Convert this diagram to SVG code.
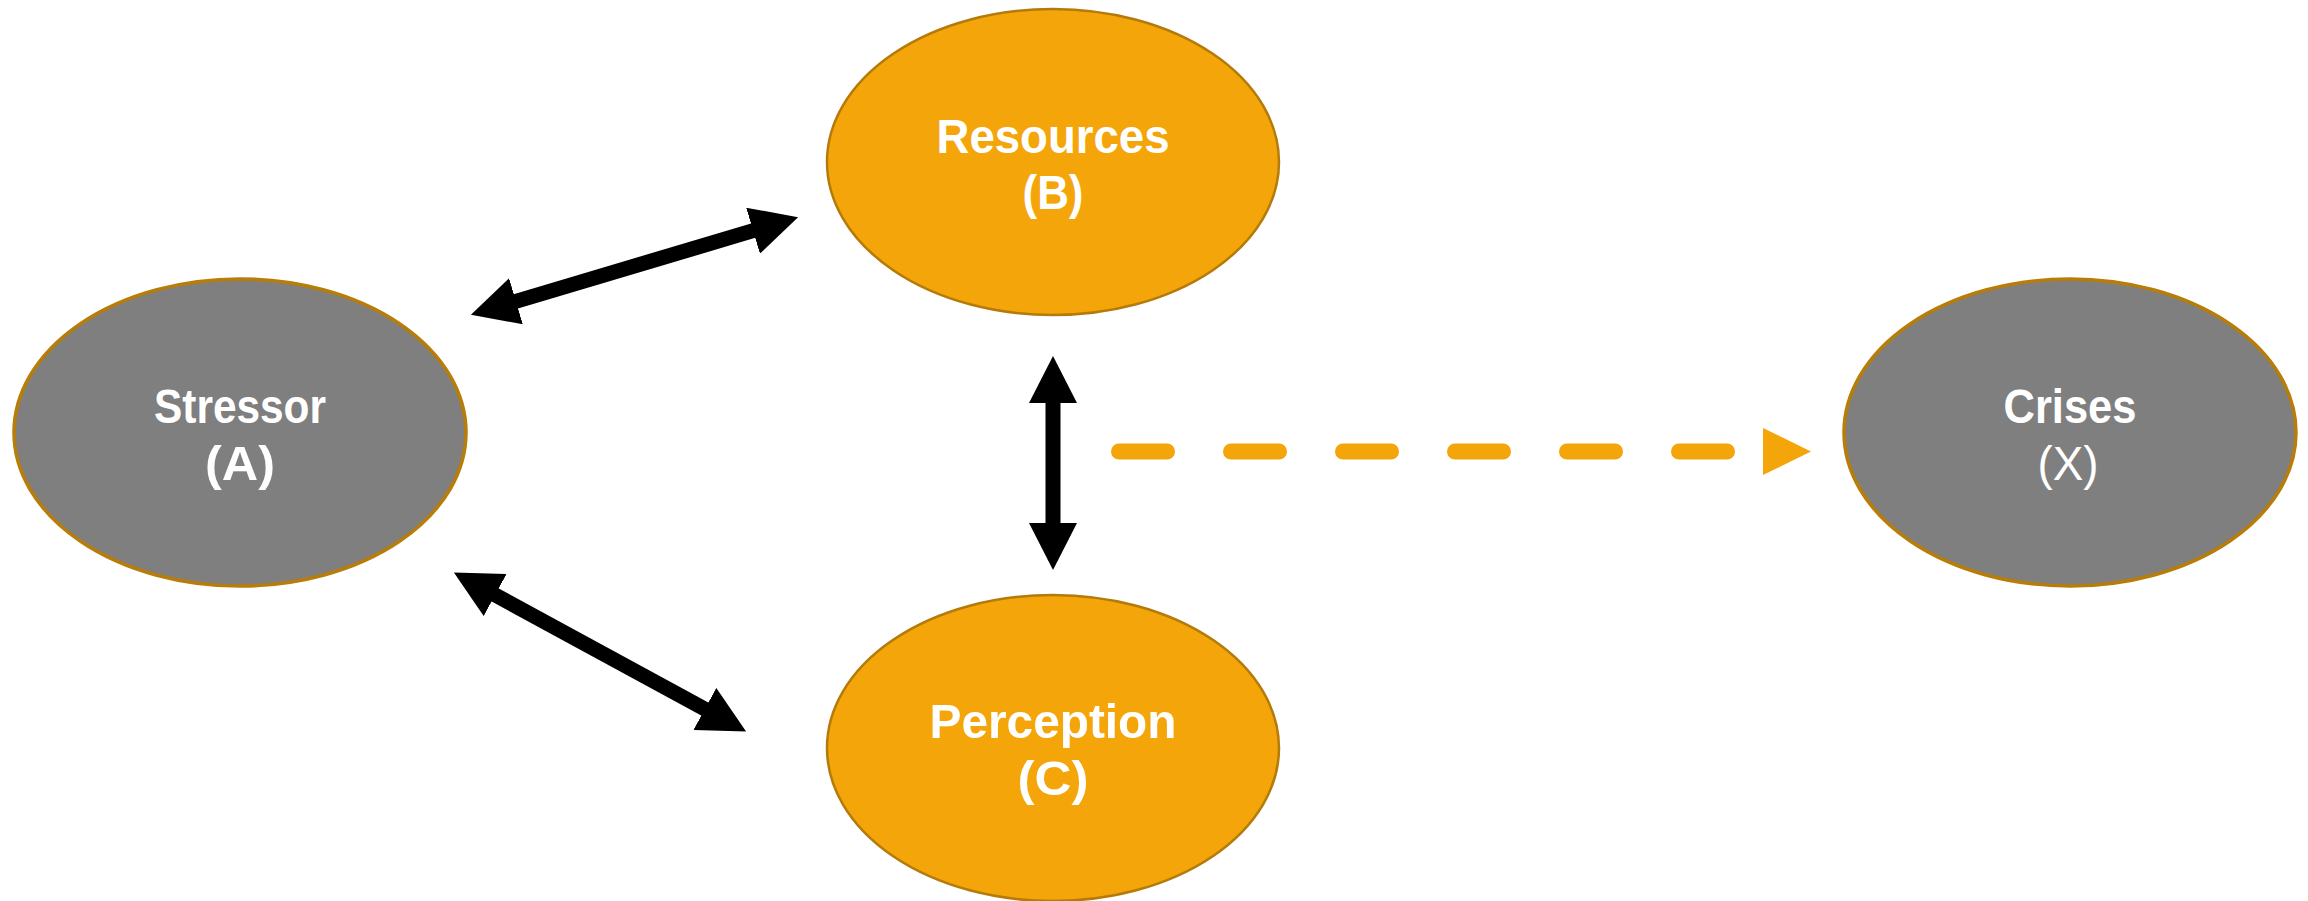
<svg xmlns="http://www.w3.org/2000/svg" width="2308" height="901" viewBox="0 0 2308 901">
  <style>
    .grey { fill: #7F7F7F; stroke: #B77D08; stroke-width: 3.5; }
    .gold { fill: #F4A509; stroke: #B47A0A; stroke-width: 2.5; }
    .lbl { font-family: "Liberation Sans", Arial, sans-serif; font-size: 49px; font-weight: bold; fill: #FFFFFF; text-anchor: middle; }
    .reg { font-weight: normal; }
    .dbl { fill: none; stroke: #000000; stroke-width: 15; marker-start: url(#blk); marker-end: url(#blk); }
    .dash { fill: none; stroke: #F4A509; stroke-width: 16; stroke-linecap: round; stroke-dasharray: 48 64; marker-end: url(#org); }
  </style>
  <defs>
    <marker id="blk" viewBox="0 0 47 48" refX="1" refY="24" markerWidth="47" markerHeight="48" markerUnits="userSpaceOnUse" orient="auto-start-reverse">
      <path d="M0,0 L47,24 L0,48 Z" fill="#000000"/>
    </marker>
    <marker id="org" viewBox="0 0 48 47" refX="0" refY="23.5" markerWidth="48" markerHeight="47" markerUnits="userSpaceOnUse" orient="auto">
      <path d="M0,0 L48,23.5 L0,47 Z" fill="#F4A509"/>
    </marker>
  </defs>
  <rect width="2308" height="901" fill="#FFFFFF"/>

  <g id="stressor">
    <ellipse class="grey" cx="240" cy="432.5" rx="226" ry="153.5"/>
    <text class="lbl" x="240" y="423" textLength="172" lengthAdjust="spacingAndGlyphs">Stressor</text>
    <text class="lbl" x="240" y="480" textLength="70" lengthAdjust="spacingAndGlyphs">(A)</text>
  </g>

  <g id="resources">
    <ellipse class="gold" cx="1053" cy="162" rx="226" ry="153"/>
    <text class="lbl" x="1053" y="153" textLength="233" lengthAdjust="spacingAndGlyphs">Resources</text>
    <text class="lbl" x="1053" y="209" textLength="61" lengthAdjust="spacingAndGlyphs">(B)</text>
  </g>

  <g id="perception">
    <ellipse class="gold" cx="1053" cy="748" rx="226" ry="153"/>
    <text class="lbl" x="1053" y="738" textLength="247" lengthAdjust="spacingAndGlyphs">Perception</text>
    <text class="lbl" x="1053" y="795" textLength="71" lengthAdjust="spacingAndGlyphs">(C)</text>
  </g>

  <g id="crises">
    <ellipse class="grey" cx="2070" cy="432.5" rx="226" ry="153.5"/>
    <text class="lbl" x="2070" y="423" textLength="133" lengthAdjust="spacingAndGlyphs">Crises</text>
    <text class="lbl reg" x="2068" y="480" textLength="61" lengthAdjust="spacingAndGlyphs">(X)</text>
  </g>

  <g id="connectors">
    <path class="dbl" d="M515,301.6 L754,230.4"/>
    <path class="dbl" d="M494.3,594.5 L705.7,709.5"/>
    <path class="dbl" d="M1053,402 L1053,524"/>
    <path class="dash" d="M1119,451.5 L1763,451.5"/>
  </g>
</svg>
